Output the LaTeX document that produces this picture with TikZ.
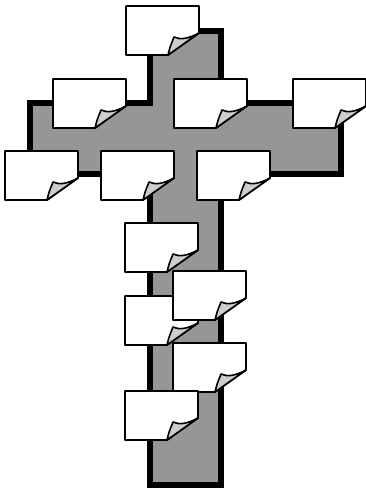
\documentclass[tikz,border=0pt]{standalone}
\usetikzlibrary{calc}
\definecolor{crossgray}{RGB}{150,150,150}
\definecolor{flapgray}{RGB}{205,205,205}
\tikzset{
  x=1pt,y=-1pt,
  crossbody/.style={fill=crossgray,draw=black,line width=6pt,miter limit=10},
  notebody/.style={fill=white,draw=black,line width=1.8pt,line join=round},
  notedflap/.style={fill=flapgray,draw=black,line width=1.6pt,line join=round},
  note/.pic={
    \path[notebody] (0,0) -- (73,0) -- (73,27) -- (42,49) -- (0,49) -- cycle;
    \path[notedflap] (42,49) .. controls (44,41) .. (48,31)
      .. controls (54,34) and (62,33) .. (73,27) -- cycle;
    \coordinate (-c) at (36,24);
  }
}
\begin{document}
\begin{tikzpicture}
\useasboundingbox (0,0) rectangle (366,490);
% cross
\path[crossbody] (150,31) -- (221,31) -- (221,103) -- (341,103) -- (341,174)
  -- (221,174) -- (221,485) -- (150,485) -- (150,174) -- (30,174)
  -- (30,103) -- (150,103) -- cycle;
% notes
\pic (n1) at (126,6) {note};
\pic (n2) at (53,79) {note};
\pic (n3) at (174,79) {note};
\pic (n4) at (293,79) {note};
\pic (n5) at (5,151) {note};
\pic (n6) at (101,151) {note};
\pic (n7) at (197,151) {note};
\pic (n8) at (125,223) {note};
\pic (n10) at (125,296) {note};
\pic (n9) at (173,271) {note};
\pic (n11) at (173,343) {note};
\pic (n12) at (125,391) {note};
\end{tikzpicture}
\end{document}
